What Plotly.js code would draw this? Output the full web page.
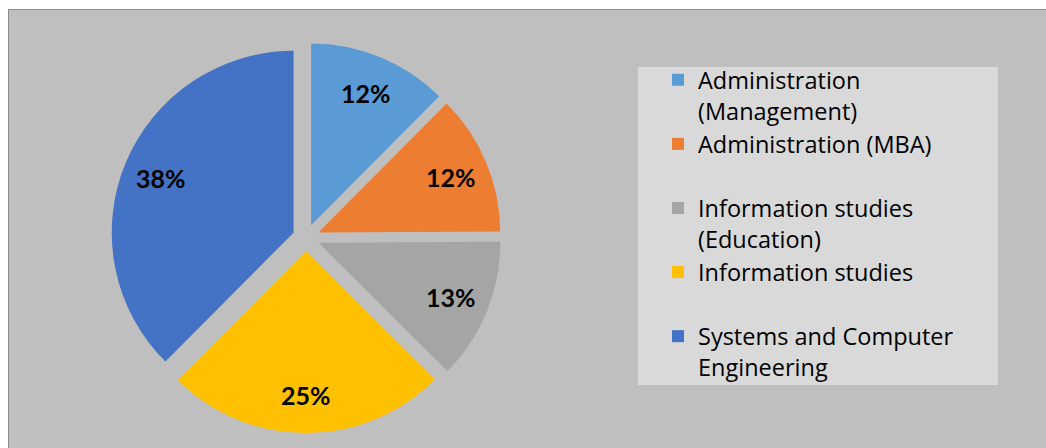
<!DOCTYPE html>
<html>
<head>
<meta charset="utf-8">
<script src="https://cdn.plot.ly/plotly-3.0.1.min.js"></script>
<style>
  html, body { margin: 0; padding: 0; background: #ffffff; }
  #wrap { position: absolute; left: 8px; top: 9px; width: 1038px; height: 439px;
          border-top: 1px solid #8c8c8c; border-left: 1px solid #8c8c8c; overflow: hidden; }
  #chart { width: 1037px; height: 438px; }
</style>
</head>
<body>
<div id="wrap"><div id="chart"></div></div>
<script>
const categories = [
  "Administration<br>(Management)",
  "Administration (MBA)<br>&nbsp;",
  "Information studies<br>(Education)",
  "Information studies<br>&nbsp;",
  "Systems and Computer<br>Engineering"
];
const shares = [12.45, 12.45, 12.55, 25, 37.55];
const sliceColors = ["#5b9bd5", "#ed7d31", "#a5a5a5", "#ffc000", "#4472c4"];

const W = 1037, H = 438;
const pieDomain = { x: [0.0981, 0.4747], y: [0.0342, 0.9258] };
const PULL = 0.074;
const LABEL_R = 0.79;

// pie geometry, as Plotly computes it from the domain
const boxW = W * (pieDomain.x[1] - pieDomain.x[0]);
const boxH = H * (pieDomain.y[1] - pieDomain.y[0]);
const R = Math.min(boxW, boxH) / (2 + 2 * PULL);
const CX = W * (pieDomain.x[0] + pieDomain.x[1]) / 2;
const CY = H * (1 - (pieDomain.y[0] + pieDomain.y[1]) / 2);

const total = shares.reduce((a, b) => a + b, 0);
const annotations = [];
let cum = 0;
shares.forEach((v) => {
  const mid = (cum + v / 2) / total * 2 * Math.PI;
  cum += v;
  const d = (PULL + LABEL_R) * R;
  const px = CX + d * Math.sin(mid);
  const py = CY - d * Math.cos(mid);
  annotations.push({
    xref: "paper", yref: "paper",
    x: px / W, y: 1 - py / H,
    xanchor: "center", yanchor: "middle",
    showarrow: false,
    text: Math.round(v / total * 100) + "%",
    font: { family: "Lato", size: 25, color: "#000000", weight: "bold" }
  });
});

const trace = {
  type: "pie",
  labels: categories,
  values: shares,
  sort: false,
  direction: "clockwise",
  rotation: 0,
  pull: PULL,
  marker: { colors: sliceColors, line: { width: 0 } },
  textinfo: "none",
  hoverinfo: "none",
  domain: pieDomain
};

const layout = {
  width: W, height: H,
  margin: { l: 0, r: 0, t: 0, b: 0 },
  paper_bgcolor: "#bfbfbf",
  plot_bgcolor: "#bfbfbf",
  showlegend: true,
  legend: {
    x: 649 / W, y: 1 - 48 / H, xanchor: "left", yanchor: "top",
    bgcolor: "rgba(0,0,0,0)",
    font: { family: "Open Sans", size: 23.5, color: "#000000" },
    valign: "top",
    traceorder: "normal"
  },
  annotations: annotations,
  shapes: [{
    type: "rect", xref: "paper", yref: "paper", layer: "below",
    x0: 629 / W, x1: 989 / W, y0: 1 - 375 / H, y1: 1 - 57 / H,
    fillcolor: "#d9d9d9", line: { width: 0 }
  }]
};

Plotly.newPlot("chart", [trace], layout, { displayModeBar: false, staticPlot: true });
</script>
</body>
</html>
